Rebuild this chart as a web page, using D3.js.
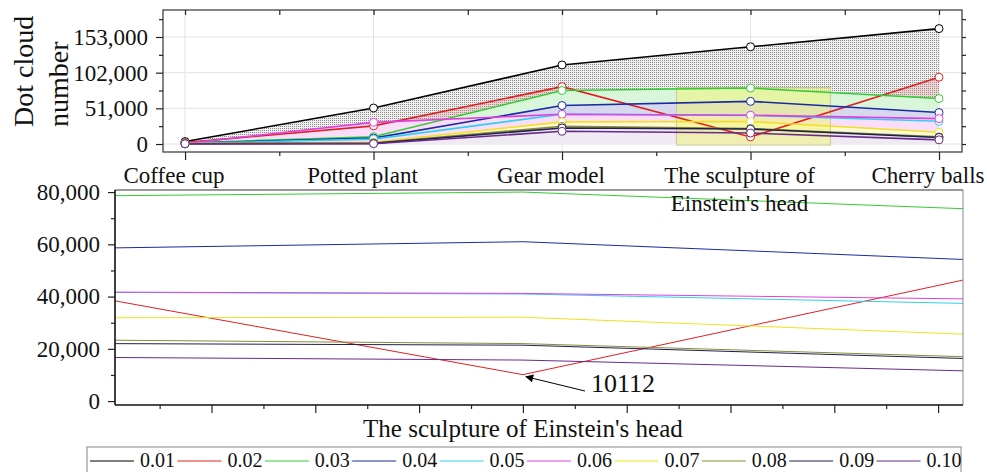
<!DOCTYPE html>
<html>
<head>
<meta charset="utf-8">
<script src="https://cdn.jsdelivr.net/npm/d3@7"></script>
<style>
  body { margin: 0; background: #fff; }
  text { font-family: "Liberation Serif", "Times New Roman", serif; fill: #111; }
</style>
</head>
<body>
<script>
// Chart data
const categories = ["Coffee cup", "Potted plant", "Gear model", "The sculpture of Einstein's head", "Cherry balls"];
const seriesNames = ["0.01", "0.02", "0.03", "0.04", "0.05", "0.06", "0.07", "0.08", "0.09", "0.10"];

const v001 = [3500, 51500, 113000, 139000, 165000];
const v002 = [2000, 26000, 82000, 10112, 95500];
const v003 = [1500, 10500, 76500, 80000, 65000];
const v004 = [1200, 8500, 55000, 61000, 45000];
const v005 = [1000, 7000, 42500, 41000, 32500];
const v006 = [800, 31000, 42500, 41200, 36300];
const v007 = [600, 2500, 31600, 32100, 16800];
const v008 = [500, 1500, 25300, 22000, 10200];
const v009 = [400, 1000, 22900, 21400, 9400];
const v010 = [300, 500, 18200, 15700, 6000];
const seriesValues = [v001, v002, v003, v004, v005, v006, v007, v008, v009, v010];

// Tick values
const topYTicks = [0, 51000, 102000, 153000];
const bottomYTicks = [0, 20000, 40000, 60000, 80000];

// Zoomed window (category index, value) shown in the lower chart
const zoomX = [2.607, 3.424];
const zoomY = [-1500, 80800];

// Styles
const colors = ["#000000", "#e02020", "#33cc33", "#1a2aa0", "#30d0f0", "#e040e0", "#f0e020", "#8a8a3a", "#202050", "#6a2a8a"];
const font = 23;

const W = 987, H = 472;
const svg = d3.select("body").append("svg").attr("width", W).attr("height", H);
const defs = svg.append("defs");

// Dot pattern for the top fill
const pat = defs.append("pattern").attr("id", "dots")
  .attr("width", 2).attr("height", 2).attr("patternUnits", "userSpaceOnUse");
pat.append("rect").attr("width", 2).attr("height", 2).attr("fill", "#efefef");
pat.append("rect").attr("width", 1).attr("height", 1).attr("fill", "#8c8c8c");

defs.append("marker").attr("id", "arrow")
  .attr("viewBox", "0 0 10 10").attr("refX", 9).attr("refY", 5)
  .attr("markerWidth", 12).attr("markerHeight", 8).attr("markerUnits", "userSpaceOnUse")
  .attr("orient", "auto")
  .append("path").attr("d", "M0,0 L10,5 L0,10 z").attr("fill", "#000");

// ---------------- Top chart ----------------
const T = { left: 163, right: 962, top: 10, bottom: 152 };
const xTop = d3.scaleLinear().domain([-0.117, 4.122]).range([T.left, T.right]);
const yTop = d3.scaleLinear().domain([-11400, 191600]).range([T.bottom, T.top]);

const gTop = svg.append("g");

// grid
gTop.selectAll(".vgrid").data(categories).enter().append("line")
  .attr("x1", (d, i) => xTop(i)).attr("x2", (d, i) => xTop(i))
  .attr("y1", T.top).attr("y2", T.bottom)
  .attr("stroke", "#e2e2e2").attr("stroke-width", 1);
gTop.selectAll(".hgrid").data(topYTicks).enter().append("line")
  .attr("x1", T.left).attr("x2", T.right)
  .attr("y1", d => yTop(d)).attr("y2", d => yTop(d))
  .attr("stroke", "#e2e2e2").attr("stroke-width", 1);

// areas (drawn from the highest series downwards)
const areaTop = d3.area()
  .x((d, i) => xTop(i))
  .y0(yTop(0))
  .y1(d => yTop(d));
seriesValues.forEach((vals, k) => {
  const p = gTop.append("path").datum(vals).attr("d", areaTop);
  if (k === 0) p.attr("fill", "url(#dots)");
  else if (k === 1) p.attr("fill", "#f08080").attr("fill-opacity", 0.22);
  else p.attr("fill", d3.interpolateRgb(colors[k], "#ffffff")(k >= 7 ? 0.9 : 0.82));
});

// highlighted zoom window
gTop.append("rect")
  .attr("x", xTop(zoomX[0])).attr("y", yTop(zoomY[1]))
  .attr("width", xTop(zoomX[1]) - xTop(zoomX[0]))
  .attr("height", yTop(zoomY[0]) - yTop(zoomY[1]))
  .attr("fill", "#eef27a").attr("fill-opacity", 0.55)
  .attr("stroke", "#c8c8a0").attr("stroke-width", 1);

// lines
const lineTop = d3.line().x((d, i) => xTop(i)).y(d => yTop(d));
seriesValues.forEach((vals, k) => {
  gTop.append("path").datum(vals)
    .attr("d", lineTop)
    .attr("fill", "none")
    .attr("stroke", colors[k])
    .attr("stroke-width", 1.6);
});
// markers
seriesValues.forEach((vals, k) => {
  gTop.selectAll(null).data(vals).enter().append("circle")
    .attr("cx", (d, i) => xTop(i)).attr("cy", d => yTop(d))
    .attr("r", 4)
    .attr("fill", "#fff")
    .attr("stroke", colors[k])
    .attr("stroke-width", 1);
});

// frame
gTop.append("rect")
  .attr("x", T.left).attr("y", T.top)
  .attr("width", T.right - T.left).attr("height", T.bottom - T.top)
  .attr("fill", "none").attr("stroke", "#333").attr("stroke-width", 1.2);

const topMinor = d3.range(25500, 191000, 51000);
const halfSteps = d3.range(0, 4.01, 0.5);

function styleAxis(g) {
  g.select(".domain").remove();
  g.selectAll("line").attr("stroke", "#222").attr("stroke-width", 1.2);
  g.selectAll("text").style("font-size", font + "px").style("font-family", "Liberation Serif, serif").attr("fill", "#111");
}

gTop.append("g").attr("transform", `translate(${T.left},0)`)
  .call(d3.axisLeft(yTop).tickValues(topYTicks).tickFormat(d3.format(",")).tickSize(7).tickPadding(8))
  .call(styleAxis);
gTop.append("g").attr("transform", `translate(${T.left},0)`)
  .call(d3.axisLeft(yTop).tickValues(topMinor).tickFormat("").tickSize(4))
  .call(styleAxis);
gTop.append("g").attr("transform", `translate(${T.right},0)`)
  .call(d3.axisRight(yTop).tickValues(topYTicks.concat(topMinor)).tickFormat("").tickSize(4))
  .call(styleAxis);
gTop.append("g").attr("transform", `translate(0,${T.bottom})`)
  .call(d3.axisBottom(xTop).tickValues(d3.range(0, 5)).tickFormat("").tickSize(8))
  .call(styleAxis);
gTop.append("g").attr("transform", `translate(0,${T.bottom})`)
  .call(d3.axisBottom(xTop).tickValues(d3.range(0.5, 4, 1)).tickFormat("").tickSize(4))
  .call(styleAxis);
gTop.append("g").attr("transform", `translate(0,${T.top})`)
  .call(d3.axisBottom(xTop).tickValues(halfSteps).tickFormat("").tickSize(5))
  .call(styleAxis);

// y title
const yTitle = gTop.append("text")
  .attr("transform", "translate(33,127) rotate(-90)")
  .attr("text-anchor", "start")
  .style("font-size", "28px");
yTitle.append("tspan").attr("x", 0).attr("y", 0).text("Dot cloud");
yTitle.append("tspan").attr("x", 0).attr("y", 35).text("number");

// ---------------- Bottom chart ----------------
const B = { left: 115, right: 963, top: 190, bottom: 405 };
const xBot = d3.scaleLinear().domain(zoomX).range([B.left, B.right]);
const yBot = d3.scaleLinear().domain(zoomY).range([B.bottom, B.top]);

defs.append("clipPath").attr("id", "clipBot")
  .append("rect").attr("x", B.left).attr("y", B.top)
  .attr("width", B.right - B.left).attr("height", B.bottom - B.top);

const gBot = svg.append("g");
const lineBot = d3.line().x((d, i) => xBot(i)).y(d => yBot(d));
const gLines = gBot.append("g").attr("clip-path", "url(#clipBot)");
seriesValues.forEach((vals, k) => {
  if (k === 0) return; // 0.01 lies above the zoom window
  gLines.append("path").datum(vals)
    .attr("d", lineBot)
    .attr("fill", "none")
    .attr("stroke", colors[k])
    .attr("stroke-width", 1);
});

// frame
gBot.append("line").attr("x1", B.left).attr("x2", B.right).attr("y1", B.top).attr("y2", B.top)
  .attr("stroke", "#333").attr("stroke-width", 1.2);
gBot.append("line").attr("x1", B.right).attr("x2", B.right).attr("y1", B.top).attr("y2", B.bottom)
  .attr("stroke", "#888").attr("stroke-width", 1);
gBot.append("line").attr("x1", B.left).attr("x2", B.right).attr("y1", B.bottom).attr("y2", B.bottom)
  .attr("stroke", "#111").attr("stroke-width", 1.6);
gBot.append("line").attr("x1", B.left).attr("x2", B.left).attr("y1", B.top).attr("y2", B.bottom)
  .attr("stroke", "#111").attr("stroke-width", 1.6);

gBot.append("g").attr("transform", `translate(${B.left},0)`)
  .call(d3.axisLeft(yBot).tickValues(bottomYTicks).tickFormat(d3.format(",")).tickSize(7).tickPadding(8))
  .call(styleAxis);
gBot.append("g").attr("transform", `translate(${B.left},0)`)
  .call(d3.axisLeft(yBot).tickValues(d3.range(10000, 80000, 20000)).tickFormat("").tickSize(4))
  .call(styleAxis);
gBot.append("g").attr("transform", `translate(0,${B.bottom})`)
  .call(d3.axisBottom(xBot).tickValues(d3.range(2.7, 3.41, 0.1)).tickFormat("").tickSize(8))
  .call(styleAxis);
gBot.append("g").attr("transform", `translate(0,${B.bottom})`)
  .call(d3.axisBottom(xBot).tickValues(d3.range(2.65, 3.4, 0.1)).tickFormat("").tickSize(4))
  .call(styleAxis);

// x title of bottom chart
gBot.append("text")
  .attr("x", xBot(3)).attr("y", 437)
  .attr("text-anchor", "middle")
  .style("font-size", "25px")
  .text(categories[3]);

// annotation of the minimum inside the zoom window
const focusIdx = 3;
const minVal = v002[focusIdx];
gBot.append("line")
  .attr("x1", 585).attr("y1", 391)
  .attr("x2", xBot(focusIdx) + 3).attr("y2", yBot(minVal) + 2)
  .attr("stroke", "#000").attr("stroke-width", 1)
  .attr("marker-end", "url(#arrow)");
gBot.append("text")
  .attr("x", 591).attr("y", 392)
  .style("font-size", "26px")
  .text(d3.format("d")(minVal));

// category labels of the top chart (drawn over the lower chart)
const catG = svg.append("g");
categories.forEach((c, i) => {
  const t = catG.append("text")
    .attr("x", xTop(i) - 11).attr("y", 183)
    .attr("text-anchor", "middle")
    .style("font-size", font + "px");
  const parts = c === "The sculpture of Einstein's head" ? ["The sculpture of", "Einstein's head"] : [c];
  parts.forEach((p, j) => t.append("tspan").attr("x", xTop(i) - 11).attr("dy", j === 0 ? 0 : 28).text(p));
});

// ---------------- Legend ----------------
const L = { x: 87, y: 447, w: 874, h: 32 };
const gLeg = svg.append("g");
gLeg.append("rect").attr("x", L.x).attr("y", L.y).attr("width", L.w).attr("height", L.h)
  .attr("fill", "#fff").attr("stroke", "#999").attr("stroke-width", 1.2);
const step = 87.4;
seriesNames.forEach((name, k) => {
  const x0 = 90 + k * step;
  gLeg.append("line").attr("x1", x0).attr("x2", x0 + 44).attr("y1", 461).attr("y2", 461)
    .attr("stroke", colors[k]).attr("stroke-width", 1);
  gLeg.append("text").attr("x", x0 + 50).attr("y", 467)
    .style("font-size", "20px").text(name);
});
</script>
</body>
</html>
